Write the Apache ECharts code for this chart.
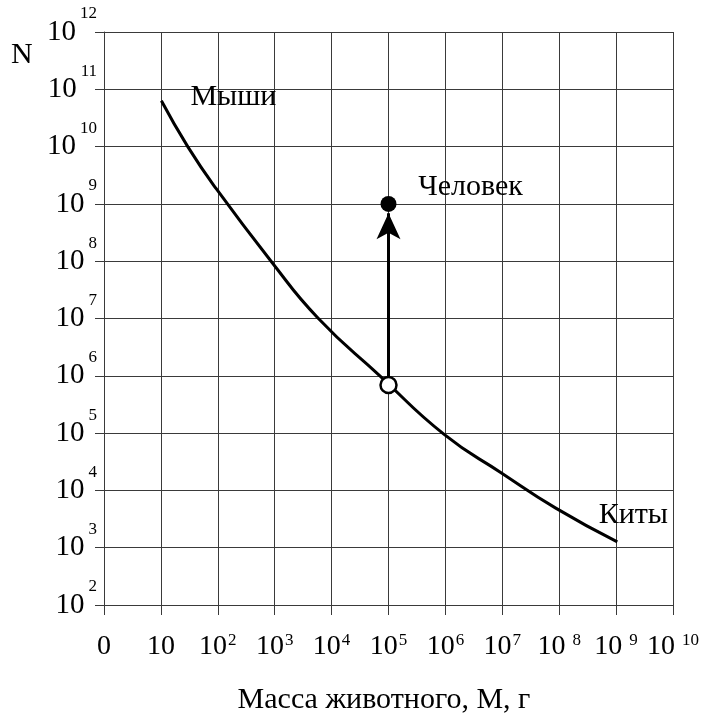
<!DOCTYPE html>
<html>
<head>
<meta charset="utf-8">
<script src="https://cdn.jsdelivr.net/npm/echarts@6/dist/echarts.min.js"></script>
<style>
html,body{margin:0;padding:0;background:#fff;}
#chart{width:718px;height:713px;}
</style>
</head>
<body>
<div id="chart"></div>
<script>
// ---- data (mass in grams, N = number of individuals) ----
const curveMass = [1.02e1, 3.0e1, 9.3e1, 8.5e2, 5.75e3, 6.9e4, 9.5e5, 9.8e6, 8.7e7, 1.05e9];
const curveN    = [6.3e10, 9.8e9, 1.86e9, 1.02e8, 1.02e7, 1.02e6, 9.5e4, 2.0e4, 4.9e3, 1.26e3];
const predictedPoint = [1.0e5, 6.9e5];   // open circle on the curve
const humanPoint = [1.0e5, 1.0e9];        // filled dot "Человек"
const arrowTipN = 6.9e8;
const curveStartLabel = 'Мыши';
const curveEndLabel = 'Киты';
const humanLabel = 'Человек';
const xTickMain = ['0', '10', '10', '10', '10', '10', '10', '10', '10', '10', '10'];
const xTickSup  = ['', '', '2', '3', '4', '5', '6', '7', '8', '9', '10'];
const yTickMain = ['10', '10', '10', '10', '10', '10', '10', '10', '10', '10', '10'];
const yTickSup  = ['2', '3', '4', '5', '6', '7', '8', '9', '10', '11', '12'];
const xTitle = 'Масса животного, М, г';
const yTitle = 'N';

const lg = Math.log10;
const FONT = "'Liberation Serif','Times New Roman',serif";
const INK = '#000';
const GRID = '#3a3a3a';

const curveData = curveMass.map((m, i) => [lg(m), lg(curveN[i])]);

const chart = echarts.init(document.getElementById('chart'), null, {renderer: 'canvas'});
chart.setOption({
  animation: false,
  backgroundColor: '#fff',
  grid: {left: 104, right: 45, top: 32, bottom: 108, containLabel: false, outerBoundsMode: 'none'},
  graphic: [{
    type: 'text', left: 11, top: 40,
    style: {text: yTitle, font: '30px ' + FONT, fill: INK}
  }],
  xAxis: {
    type: 'value', min: 0, max: 10, interval: 1,
    name: xTitle, nameLocation: 'middle', nameGap: 80,
    nameTextStyle: {fontFamily: FONT, fontSize: 30, color: INK, padding: [0, 9, 0, 0]},
    axisLine: {show: true, onZero: false, lineStyle: {color: GRID, width: 1}},
    axisTick: {show: true, inside: false, length: 10, lineStyle: {color: GRID, width: 1}},
    splitLine: {show: true, lineStyle: {color: GRID, width: 1}},
    axisLabel: {
      margin: 27, color: INK,
      formatter: function (v) {
        const i = Math.round(v);
        const s = xTickSup[i];
        const st = i >= 8 ? 'g' : 's';
        return '{b|' + xTickMain[i] + '}' + (s ? '{' + st + '|' + s + '}' : '');
      },
      rich: {
        b: {fontFamily: FONT, fontSize: 28, lineHeight: 30, color: INK},
        s: {fontFamily: FONT, fontSize: 17, lineHeight: 17, verticalAlign: 'top', color: INK, padding: [0, 0, 0, 1]},
        g: {fontFamily: FONT, fontSize: 17, lineHeight: 17, verticalAlign: 'top', color: INK, padding: [0, 0, 0, 7]}
      }
    }
  },
  yAxis: {
    type: 'value', min: 2, max: 12, interval: 1,
    axisLine: {show: true, onZero: false, lineStyle: {color: GRID, width: 1}},
    axisTick: {show: true, inside: false, length: 9, lineStyle: {color: GRID, width: 1}},
    splitLine: {show: true, lineStyle: {color: GRID, width: 1}},
    axisLabel: {
      margin: 7, color: INK,
      formatter: function (v) {
        const i = Math.round(v) - 2;
        return '{b|' + yTickMain[i] + '}{s|' + yTickSup[i] + '}';
      },
      rich: {
        b: {fontFamily: FONT, fontSize: 29, lineHeight: 53, color: INK},
        s: {fontFamily: FONT, fontSize: 17, lineHeight: 17, verticalAlign: 'top', color: INK, padding: [0, 0, 0, 4]}
      }
    }
  },
  series: [
    {
      type: 'line', data: curveData, smooth: 0.5, showSymbol: false, symbol: 'none',
      lineStyle: {color: '#000', width: 3}, z: 3
    },
    {
      type: 'lines', coordinateSystem: 'cartesian2d', z: 4,
      symbol: ['none', 'arrow'], symbolSize: [0, [18, 26]],
      lineStyle: {color: '#000', width: 3, opacity: 1},
      data: [{coords: [[lg(predictedPoint[0]), lg(predictedPoint[1])], [lg(humanPoint[0]), lg(arrowTipN)]]}]
    },
    {
      type: 'scatter', z: 6, symbol: 'circle', symbolSize: 16,
      itemStyle: {color: '#fff', borderColor: '#000', borderWidth: 2.5, opacity: 1},
      data: [[lg(predictedPoint[0]), lg(predictedPoint[1])]]
    },
    {
      type: 'scatter', z: 6, symbol: 'circle', symbolSize: 16,
      itemStyle: {color: '#000', opacity: 1},
      label: {show: true, formatter: humanLabel, position: 'inside', offset: [82, -17],
        fontFamily: FONT, fontSize: 30, color: INK},
      data: [[lg(humanPoint[0]), lg(humanPoint[1])]]
    },
    {
      type: 'scatter', z: 5, symbol: 'circle', symbolSize: 1,
      itemStyle: {color: 'rgba(0,0,0,0)', opacity: 1},
      label: {show: true, position: 'inside', fontFamily: FONT, fontSize: 30, color: INK},
      data: [
        {value: curveData[0], label: {offset: [72, -4], formatter: curveStartLabel}},
        {value: curveData[curveData.length - 1], label: {offset: [16, -27], formatter: curveEndLabel}}
      ]
    }
  ]
});
</script>
</body>
</html>
